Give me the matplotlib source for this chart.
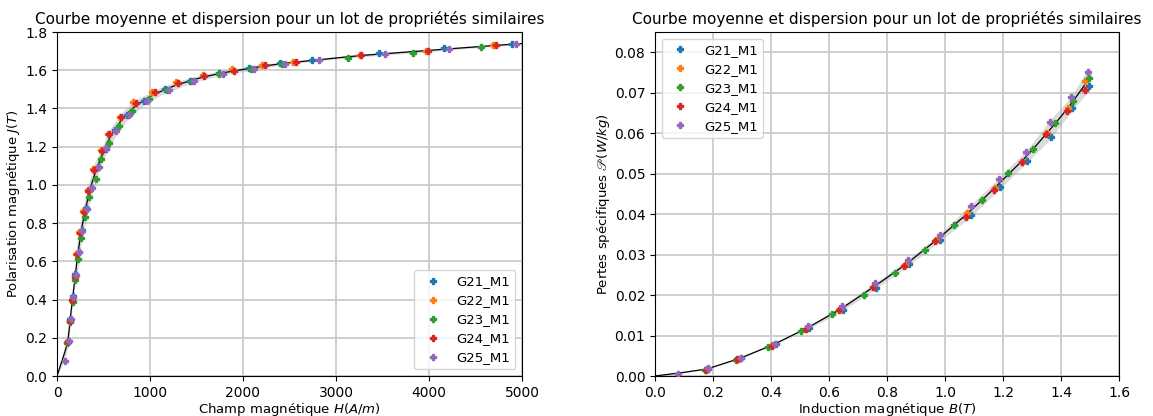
import numpy as np
import matplotlib
matplotlib.use("Agg")
import matplotlib.pyplot as plt

# ---------------- data ----------------
labels = ["G21_M1", "G22_M1", "G23_M1", "G24_M1", "G25_M1"]
colors = ["#1f77b4", "#ff7f0e", "#2ca02c", "#d62728", "#9467bd"]

# Left chart: polarisation J(T) vs field H(A/m)
H_G21 = [118, 140, 170, 198, 236, 265, 316, 366, 445, 522, 628, 756, 935, 1161, 1430, 1745, 2064, 2397, 2745, 3462, 4164, 4897]
J_G21 = [0.185, 0.298, 0.418, 0.532, 0.650, 0.764, 0.878, 0.985, 1.092, 1.190, 1.286, 1.366, 1.439, 1.500, 1.544, 1.584, 1.614, 1.636, 1.654, 1.689, 1.715, 1.736]
H_G22 = [110, 135, 160, 190, 205, 240, 283, 330, 392, 478, 552, 675, 814, 1025, 1279, 1566, 1878, 2200, 2540, 3257, 3963, 4688]
J_G22 = [0.18, 0.29, 0.40, 0.52, 0.64, 0.752, 0.865, 0.973, 1.082, 1.180, 1.268, 1.356, 1.432, 1.484, 1.537, 1.575, 1.604, 1.627, 1.645, 1.680, 1.702, 1.732]
H_G23 = [112, 140, 168, 193, 229, 254, 301, 347, 416, 473, 562, 670, 803, 992, 1180, 1450, 1745, 2082, 2422, 3132, 3831, 4560]
J_G23 = [0.175, 0.284, 0.389, 0.502, 0.610, 0.720, 0.830, 0.935, 1.032, 1.134, 1.221, 1.308, 1.387, 1.450, 1.497, 1.542, 1.580, 1.605, 1.631, 1.666, 1.692, 1.720]
H_G24 = [115, 140, 165, 195, 211, 245, 290, 335, 398, 487, 562, 685, 849, 1054, 1304, 1584, 1903, 2236, 2569, 3265, 3992, 4716]
J_G24 = [0.18, 0.29, 0.40, 0.52, 0.638, 0.749, 0.860, 0.968, 1.078, 1.177, 1.266, 1.354, 1.426, 1.488, 1.531, 1.572, 1.596, 1.627, 1.643, 1.680, 1.702, 1.730]
H_G25 = [81, 129, 147, 172, 204, 240, 273, 321, 373, 448, 530, 636, 774, 964, 1207, 1476, 1783, 2120, 2454, 2812, 3530, 4210, 4939]
J_G25 = [0.080, 0.184, 0.297, 0.415, 0.528, 0.647, 0.760, 0.876, 0.982, 1.092, 1.192, 1.284, 1.366, 1.441, 1.497, 1.544, 1.579, 1.605, 1.635, 1.653, 1.685, 1.713, 1.736]

# Right chart: specific losses P(W/kg) vs induction B(T)
B_G21 = [0.182, 0.296, 0.416, 0.530, 0.648, 0.762, 0.876, 0.984, 1.090, 1.188, 1.283, 1.364, 1.438, 1.497]
P_G21 = [0.0018, 0.0044, 0.0079, 0.0118, 0.0163, 0.0218, 0.0276, 0.0336, 0.0398, 0.0466, 0.0531, 0.0590, 0.0663, 0.0716]
B_G22 = [0.178, 0.288, 0.404, 0.521, 0.638, 0.752, 0.862, 0.970, 1.075, 1.172, 1.264, 1.350, 1.424, 1.482]
P_G22 = [0.0017, 0.0042, 0.0076, 0.0117, 0.0165, 0.0220, 0.0275, 0.0335, 0.0403, 0.0465, 0.0530, 0.0600, 0.0661, 0.0729]
B_G23 = [0.174, 0.278, 0.388, 0.502, 0.611, 0.719, 0.828, 0.930, 1.030, 1.128, 1.217, 1.304, 1.381, 1.441, 1.496]
P_G23 = [0.0016, 0.0040, 0.0072, 0.0110, 0.0152, 0.0201, 0.0255, 0.0312, 0.0372, 0.0435, 0.0502, 0.0560, 0.0626, 0.0680, 0.0737]
B_G24 = [0.176, 0.284, 0.402, 0.520, 0.636, 0.751, 0.860, 0.966, 1.072, 1.170, 1.264, 1.348, 1.421, 1.483]
P_G24 = [0.0016, 0.0041, 0.0075, 0.0117, 0.0164, 0.0220, 0.0272, 0.0334, 0.0394, 0.0460, 0.0528, 0.0597, 0.0654, 0.0706]
B_G25 = [0.080, 0.183, 0.295, 0.413, 0.528, 0.646, 0.760, 0.872, 0.982, 1.088, 1.187, 1.280, 1.362, 1.436, 1.494]
P_G25 = [0.0005, 0.0019, 0.0045, 0.0080, 0.0123, 0.0173, 0.0229, 0.0287, 0.0349, 0.0420, 0.0487, 0.0553, 0.0627, 0.0689, 0.0750]

left_series = [(H_G21, J_G21), (H_G22, J_G22), (H_G23, J_G23), (H_G24, J_G24), (H_G25, J_G25)]
right_series = [(B_G21, P_G21), (B_G22, P_G22), (B_G23, P_G23), (B_G24, P_G24), (B_G25, P_G25)]

title = "Courbe moyenne et dispersion pour un lot de propriétés similaires"


def interp_extrap(xg, x, y):
    x = np.concatenate([[0.0], np.asarray(x, float)])
    y = np.concatenate([[0.0], np.asarray(y, float)])
    out = np.interp(xg, x, y)
    slope = (y[-1] - y[-2]) / (x[-1] - x[-2])
    m = xg > x[-1]
    out[m] = y[-1] + slope * (xg[m] - x[-1])
    return out


def mean_std(series, xmax, n=800):
    xg = np.linspace(0, xmax, n)
    ys = np.array([interp_extrap(xg, x, y) for x, y in series])
    return xg, ys.mean(axis=0), ys.std(axis=0)


fig = plt.figure(figsize=(11.53, 4.16), dpi=100)
ax1 = fig.add_axes([57 / 1153, 40 / 416, 465 / 1153, 344 / 416])
ax2 = fig.add_axes([655 / 1153, 40 / 416, 464 / 1153, 344 / 416])

grid_kw = dict(color="#cccccc", linewidth=1.3)
band_kw = dict(color="#b0b0b0", alpha=0.45, linewidth=0, zorder=1)
mk = dict(linestyle="none", marker="P", markersize=5, zorder=3)
leg_kw = dict(fontsize=9.5, numpoints=1, markerscale=0.8, labelspacing=0.45)

# ---- left ----
xg, mu, sd = mean_std(left_series, 5000)
ax1.fill_between(xg, mu - 2 * sd, mu + 2 * sd, **band_kw)
ax1.plot(xg, mu, color="black", linewidth=0.9, zorder=2)
for (x, y), lab, c in zip(left_series, labels, colors):
    ax1.plot(x, y, color=c, label=lab, **mk)
ax1.set_xlim(0, 5000)
ax1.set_ylim(0, 1.8)
ax1.set_xticks([0, 1000, 2000, 3000, 4000, 5000])
ax1.set_yticks(np.arange(0, 1.81, 0.2))
ax1.set_yticklabels([f"{v:.1f}" for v in np.arange(0, 1.81, 0.2)])
ax1.grid(True, **grid_kw)
ax1.set_axisbelow(True)
ax1.set_xlabel("Champ magnétique $H(A/m)$", fontsize=9.5, labelpad=1)
ax1.set_ylabel("Polarisation magnétique $J(T)$", fontsize=9.5, labelpad=2)
ax1.set_title(title, fontsize=11, pad=6)
ax1.legend(loc="lower right", **leg_kw)

# ---- right ----
xg, mu, sd = mean_std(right_series, 1.497)
ax2.fill_between(xg, mu - 2 * sd, mu + 2 * sd, **band_kw)
ax2.plot(xg, mu, color="black", linewidth=0.9, zorder=2)
for (x, y), lab, c in zip(right_series, labels, colors):
    ax2.plot(x, y, color=c, label=lab, **mk)
ax2.set_xlim(0, 1.6)
ax2.set_ylim(0, 0.085)
ax2.set_xticks(np.arange(0, 1.61, 0.2))
ax2.set_xticklabels([f"{v:.1f}" for v in np.arange(0, 1.61, 0.2)])
ax2.set_yticks(np.arange(0, 0.081, 0.01))
ax2.set_yticklabels([f"{v:.2f}" for v in np.arange(0, 0.081, 0.01)])
ax2.grid(True, **grid_kw)
ax2.set_axisbelow(True)
ax2.set_xlabel("Induction magnétique $B(T)$", fontsize=9.5, labelpad=1)
ax2.set_ylabel(r"Pertes spécifiques $\mathscr{P}(W/kg)$", fontsize=9.5, labelpad=2)
ax2.set_title(title, fontsize=11, pad=6)
ax2.legend(loc="upper left", **leg_kw)

for ax in (ax1, ax2):
    ax.tick_params(labelsize=10)

fig.savefig("out.png", dpi=100)
